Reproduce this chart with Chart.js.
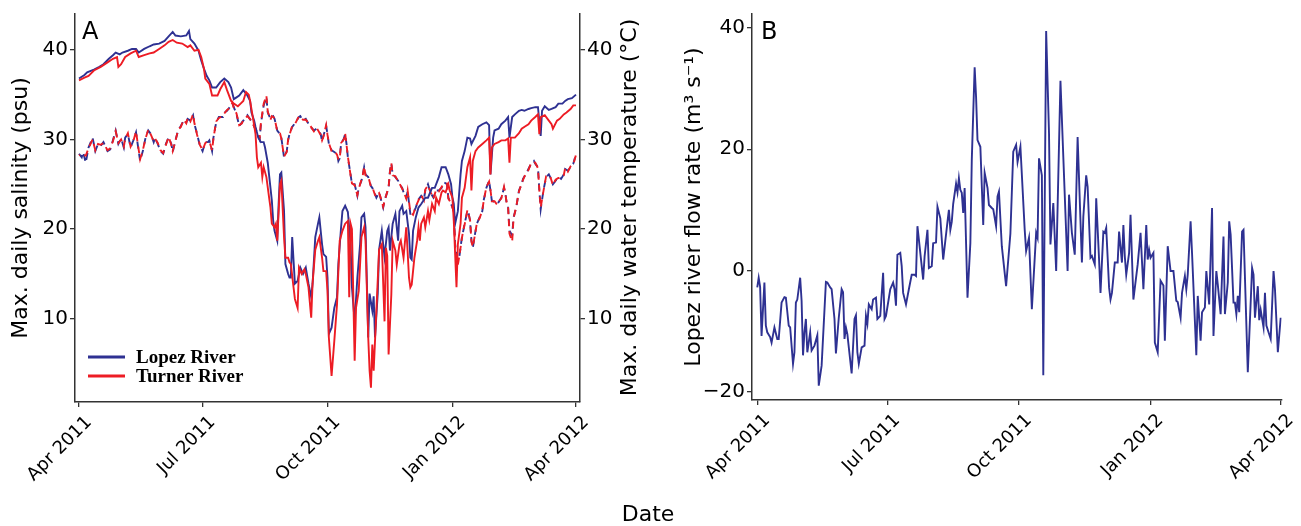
<!DOCTYPE html>
<html lang="en">
<head>
<meta charset="UTF-8">
<title>Lopez and Turner rivers: salinity, temperature and flow</title>
<script src="https://cdn.jsdelivr.net/npm/chart.js"></script>
<style>
  body { margin: 0; background: #fff; }
  .wrap { position: relative; width: 1301px; height: 526px; font-family: 'DejaVu Sans', sans-serif; }
  #panelA { position: absolute; left: 0; top: 0; }
  #panelB { position: absolute; left: 660px; top: 0; }
  .xtitle { position: absolute; left: 548px; width: 200px; top: 501px; text-align: center;
            font-size: 22px; line-height: 26px; color: #000; }
</style>
</head>
<body>
<div class="wrap">
  <canvas id="panelA" width="660" height="526"></canvas>
  <canvas id="panelB" width="641" height="526"></canvas>
  <div class="xtitle">Date</div>
</div>

<script>
// x axis: days since 1 Apr 2011
const tickDays = [0, 91, 183, 275, 366];
const tickLabels = ['Apr 2011', 'Jul 2011', 'Oct 2011', 'Jan 2012', 'Apr 2012'];
const seriesNames = ['Lopez River', 'Turner River'];
const seriesColors = ['#2e3192', '#ed1c24'];

// max daily salinity (psu)
const lopezSalDays = [
  0,4,6,11,15,18,22,25,27,30, 32,36,39,42,44,48,52,55,59,63,
  66,69,71,75,79,81,82,85,88,90, 92,94,96,98,101,104,107,110,112,114,
  116,118,121,124,126,127,129,130,132,134, 136,137,139,140,142,143,144,146,147,148,
  149,151,152,154,155,156,157,159,161,163, 165,167,169,171,172,174,176,177,179,180,
  182,183,184,186,188,190,191,193,194,196, 198,200,201,203,205,207,208,210,211,213,
  214,216,217,218,220,221,223,224,225,227, 228,229,231,233,235,236,238,239,241,243,
  244,245,246,248,250,252,255,257,260,262, 265,267,270,272,274,275,276,277,279,281,
  282,284,286,288,289,292,294,297,300,302, 303,305,306,309,311,314,316,317,319,321,
  324,326,328,331,333,336,338,340,341,343, 346,348,351,353,356,358,360,363,366];
const lopezSal = [
  36.8,37.2,37.5,37.8,38.1,38.4,39.0,39.4,39.7,39.5, 39.7,39.9,40.1,40.1,39.7,40.1,40.4,40.6,40.7,41.0,
  41.5,42.0,41.6,41.5,41.6,42.1,41.2,40.7,39.9,38.8, 37.9,37.1,36.6,35.8,35.8,36.4,36.8,36.4,35.8,34.5,
  34.7,34.9,35.5,34.9,34.3,33.0,32.1,31.4,30.2,29.7, 29.7,29.1,27.4,26.0,23.2,20.9,19.8,18.7,22.8,26.1,
  26.3,22.0,16.1,15.0,14.6,14.6,19.1,13.9,14.2,15.7, 15.0,15.7,13.9,12.4,13.9,19.1,20.6,21.3,18.3,17.2,
  16.9,14.6,8.3,9.0,11.2,12.4,16.1,20.2,22.0,22.6, 21.9,18.3,13.5,9.7,14.6,18.3,21.3,21.7,20.2,7.9,
  12.8,10.9,12.5,7.9,12.8,17.7,19.8,18.3,16.9,19.8, 20.2,17.6,20.6,21.7,18.7,22.0,22.6,21.7,22.0,19.5,
  16.8,16.6,19.8,21.3,22.4,22.8,23.5,23.5,24.6,24.6, 25.8,26.9,26.9,26.1,25.0,23.5,22.8,20.6,22.0,26.1,
  27.6,28.7,30.2,30.1,29.5,30.4,31.4,31.7,31.9,31.6, 26.1,30.2,31.0,31.2,31.7,32.1,32.5,30.2,32.5,32.8,
  33.2,33.3,33.2,33.4,33.5,33.6,33.6,30.4,33.2,33.7, 33.3,33.4,33.6,34.0,34.0,34.3,34.5,34.6,35.0];

const turnerSalDays = [
  0,4,7,11,16,21,25,28,29,31, 34,38,42,44,48,52,55,59,63,66,
  69,72,76,80,82,85,88,90,92,93, 96,98,102,104,107,109,112,114,117,119,
  121,123,125,126,128,130,131,132,134,135, 136,138,140,141,142,144,145,146,148,149,
  151,152,154,155,156,158,159,161,162,164, 166,167,169,171,172,174,176,177,179,180,
  182,183,184,186,188,190,191,192,194,196, 198,199,200,201,203,204,206,208,210,211,
  213,214,215,216,217,219,221,223,225,226, 227,228,230,231,233,234,236,237,239,241,
  242,243,244,245,247,249,250,251,252,254, 255,257,258,260,262,263,265,267,268,270,
  272,273,275,276,278,279,281,282,284,286, 288,289,290,292,294,297,300,302,303,304,
  306,309,311,314,316,317,318,321,324,326, 329,331,333,336,338,339,340,343,346,348,
  349,352,354,357,359,362,364,366];
const turnerSal = [
  36.6,36.9,37.1,37.7,38.1,38.6,39.0,39.2,38.1,38.4, 39.2,39.6,39.9,39.2,39.4,39.6,39.7,40.1,40.5,40.9,
  41.1,40.8,40.7,40.3,40.5,39.9,40.0,39.2,37.9,36.8, 36.2,34.9,34.9,35.6,36.4,35.5,34.3,34.0,33.7,34.0,
  34.3,35.3,35.0,34.3,32.5,30.6,28.0,26.9,27.4,25.8, 26.9,25.8,23.5,22.4,20.6,20.2,20.6,18.7,25.0,25.4,
  19.1,16.8,16.8,16.3,16.1,13.5,12.2,11.2,15.7,15.0, 15.5,15.0,13.5,10.1,13.9,17.7,18.7,19.1,16.8,15.3,
  15.3,13.1,7.9,3.6,7.5,11.6,15.3,18.7,19.8,20.6, 20.9,12.4,20.6,20.0,5.3,11.2,13.1,19.1,20.2,18.7,
  7.9,4.2,2.3,7.1,4.2,10.9,17.7,18.3,9.7,17.9, 17.0,6.0,12.7,18.7,17.6,16.0,18.3,18.7,16.8,20.2,
  17.5,14.6,13.5,13.8,16.8,18.7,20.2,18.7,20.6,21.3, 20.2,22.0,21.0,22.8,22.0,23.5,22.8,24.1,24.3,24.1,
  25.0,24.3,23.5,20.9,13.5,18.3,20.6,23.5,24.6,26.9, 28.0,24.3,27.6,28.7,29.1,29.5,29.9,30.2,26.1,29.1,
  29.5,29.7,29.9,29.9,30.1,27.4,30.2,30.2,30.7,31.2, 31.5,31.7,32.1,32.5,32.8,30.6,32.5,32.7,32.1,31.7,
  31.2,32.1,32.3,32.8,33.0,33.4,33.8,33.8];

// max daily water temperature (°C)
const tempDays = [
  0,2,3,5,7,10,12,14,16,18, 21,23,25,27,29,31,33,34,36,38,
  40,42,43,45,47,49,51,53,55,56, 58,60,62,64,66,68,69,71,73,75,
  77,79,80,82,84,85,87,89,91,93, 95,96,98,99,101,103,106,107,109,111,
  113,114,116,118,120,121,124,127,130,133, 134,136,138,139,141,142,143,144,146,148,
  149,151,153,154,155,157,159,162,163,165, 167,170,173,175,178,179,180,182,183,184,
  186,188,190,191,192,193,195,196,197,198, 200,201,203,205,206,208,209,210,211,213,
  215,216,218,219,221,222,224,225,228,229, 230,231,233,235,236,238,239,241,242,244,
  246,248,250,252,254,255,257,259,261,263, 265,267,269,271,272,274,276,277,278,279,
  280,282,283,284,286,287,288,289,290,292, 293,295,297,298,300,302,303,304,306,308,
  309,311,313,314,315,316,317,319,320,322, 324,326,327,329,331,333,335,336,338,339,
  340,342,344,346,347,349,351,353,355,357, 358,360,362,364,366];
const lopezTemp = [
  28.4,28.0,28.6,27.4,29.1,30.2,28.7,29.5,29.3,29.7, 28.7,28.9,29.9,31.0,29.5,30.1,29.1,30.2,30.6,29.1,
  29.9,30.8,29.7,27.6,28.7,30.2,31.0,30.6,29.7,30.2, 29.5,28.7,28.4,29.5,30.2,29.5,28.6,29.9,31.0,31.5,
  32.1,31.9,32.3,32.1,32.7,31.7,30.6,29.3,28.7,29.7, 29.7,29.9,28.7,30.2,31.9,32.5,32.5,33.0,33.2,33.6,
  34.0,33.6,32.8,31.5,31.9,32.1,32.7,32.0,31.2,30.0, 31.8,33.8,34.7,33.0,32.3,32.5,32.6,32.3,31.0,30.6,
  30.2,28.0,28.7,29.9,30.6,31.4,31.8,32.5,32.6,32.1, 32.3,31.5,31.0,31.2,30.6,29.8,30.4,31.5,30.6,29.5,
  28.8,28.6,28.4,27.6,27.9,29.5,30.1,30.6,29.5,28.0, 26.1,25.0,25.0,23.7,24.6,25.4,26.1,26.9,26.1,25.8,
  24.8,24.6,23.9,23.5,24.1,23.5,22.4,23.2,24.6,26.5, 27.3,26.1,25.8,25.4,25.0,24.6,24.1,23.5,24.2,21.7,
  21.7,22.4,23.3,23.7,23.3,24.3,25.0,24.0,23.5,24.3, 24.3,24.6,25.2,25.0,23.5,22.8,22.0,18.3,17.0,16.6,
  16.8,19.1,19.8,20.6,22.0,21.7,20.9,18.7,17.9,19.8, 20.6,21.3,22.0,23.2,24.6,25.4,24.3,23.2,23.0,22.8,
  23.0,23.5,24.6,24.0,22.8,22.5,19.8,19.3,21.3,22.4, 24.3,25.0,25.6,26.1,26.7,27.3,27.6,27.3,26.9,24.3,
  22.2,24.3,25.8,26.1,25.8,25.0,25.4,25.8,25.6,26.1, 26.7,26.5,26.9,27.3,28.4];
const turnerTemp = [
  28.2,28.4,28.3,28.2,29.0,30.0,28.8,29.5,29.4,29.6, 28.8,29.0,29.8,30.9,29.6,30.0,29.2,30.1,30.7,29.2,
  29.8,30.9,29.8,27.8,28.8,30.1,31.1,30.5,29.8,30.1, 29.6,28.8,28.5,29.4,30.3,29.4,28.7,29.8,31.1,31.4,
  32.2,31.8,32.4,32.0,32.8,31.8,30.5,29.4,28.8,29.6, 29.8,29.8,28.8,30.1,32.0,32.4,32.6,32.9,33.3,33.5,
  34.1,33.5,32.9,31.6,31.8,32.2,32.6,32.1,31.1,30.1, 31.9,34.0,34.9,33.1,32.2,32.6,32.5,32.4,30.9,30.7,
  30.1,28.1,28.6,30.0,30.5,31.5,31.7,32.6,32.5,32.2, 32.2,31.6,30.9,31.3,30.5,29.9,30.3,31.6,30.5,29.6,
  28.7,28.7,28.3,27.8,27.8,29.6,30.0,30.7,29.4,28.1, 26.0,25.1,24.9,23.8,24.5,25.5,26.0,27.0,26.0,25.9,
  24.7,24.7,23.8,23.6,24.0,23.6,22.5,23.1,24.7,26.4, 27.4,26.0,25.9,25.3,25.1,24.5,24.2,23.4,24.3,21.9,
  21.6,22.5,23.2,23.8,23.2,24.4,24.9,24.1,23.4,24.4, 24.2,24.7,25.1,25.1,23.4,22.9,21.9,18.0,16.5,16.0,
  16.9,19.0,19.9,20.5,22.1,21.6,21.0,18.6,18.0,19.7, 20.7,21.2,22.1,23.1,24.7,25.3,24.4,23.1,23.1,22.7,
  23.1,23.4,24.7,23.9,22.9,22.4,19.5,18.6,21.2,22.5, 24.2,25.1,25.5,26.2,26.6,27.4,27.5,27.4,26.8,24.4,
  22.4,24.2,25.9,26.0,25.9,24.9,25.5,25.7,25.7,26.0, 26.8,26.4,27.0,27.2,28.3];

// Lopez river flow rate (m3/s)
const flowDays = [
  0,1,2,3,5,6,7,9,10,12, 14,15,17,19,20,22,23,25,26,27,
  28,30,31,32,33,34,35,37,38,40, 42,43,45,48,49,51,52,54,55,57,
  59,60,61,62,63,66,68,69,70,71, 73,75,76,77,78,80,81,83,84,86,
  88,89,90,93,95,96,97,98,100,101, 102,104,106,108,110,111,112,114,116,117,
  119,120,122,123,125,126,128,130,133,134, 135,136,137,139,140,141,142,143,144,145,
  147,149,150,152,153,154,156,158,159,161, 162,164,165,167,168,169,171,174,177,179,
  181,182,184,187,188,190,192,195,196,197, 199,200,202,204,205,207,209,212,214,217,
  218,220,222,224,227,228,230,231,233,234, 236,237,239,240,242,243,244,246,247,248,
  250,252,253,255,256,257,258,260,261,263, 266,268,270,272,273,274,275,277,278,280,
  282,284,285,287,289,291,293,294,296,297, 299,300,301,303,304,307,308,310,311,313,
  314,316,318,319,321,322,324,326,327,329, 330,331,333,334,335,336,337,339,340,343,
  346,347,348,350,351,352,354,355,356,359, 361,362,364,366];
const flowRate = [
  -2.8,-1.2,-2.7,-10.8,-2.0,-9.1,-10.2,-11.0,-11.9,-9.4, -11.3,-11.3,-5.3,-4.4,-4.5,-9.1,-9.4,-15.4,-13.5,-5.3,
  -4.8,-1.2,-5.0,-14.0,-10.2,-8.0,-13.5,-10.2,-13.2,-12.4, -10.7,-19.0,-15.7,-1.9,-2.0,-2.8,-3.1,-8.0,-13.7,-7.8,
  -3.1,-3.6,-11.3,-9.4,-10.5,-17.0,-8.0,-7.4,-13.5,-15.4, -12.7,-12.4,-7.5,-8.8,-5.6,-6.4,-4.8,-4.5,-8.0,-7.5,
  -0.4,-8.0,-7.5,-3.1,-2.0,-3.1,-5.8,2.6,2.9,0.7, -3.7,-5.6,-3.1,-0.7,-0.7,-0.9,7.3,2.9,-1.5,2.3,
  6.7,0.4,0.7,4.5,4.6,10.5,8.6,1.8,8.0,10.0, 6.7,8.0,11.0,14.3,12.9,15.2,13.3,12.8,9.5,13.6,
  -4.5,4.5,18.2,33.5,28.6,21.5,20.4,7.5,16.1,13.6, 10.8,10.3,10.1,7.3,12.2,13.0,4.0,-2.6,6.1,19.6,
  20.7,17.9,20.4,6.7,3.2,5.4,-6.4,6.2,5.4,18.5, 15.7,-17.3,39.5,22.6,4.3,11.1,-0.1,31.3,18.7,-0.1,
  12.5,6.2,2.6,22.0,1.3,8.9,15.7,13.8,2.1,2.4, 1.0,11.9,1.8,-3.7,6.4,6.2,7.0,-2.8,-4.8,-3.7,
  1.3,1.3,6.4,1.3,7.5,2.3,-0.7,2.9,9.2,-4.8, 1.0,6.2,-3.1,7.5,1.8,3.4,2.1,2.9,-11.9,-13.5,
  -1.7,-2.5,-11.6,4.0,-0.1,-0.1,-5.0,-5.2,-7.8,-3.7, -0.9,-3.1,-0.7,8.1,2.9,-14.0,-4.2,-11.6,-6.9,-6.1,
  -0.1,-5.6,10.3,-10.8,-0.1,-2.3,-7.2,5.6,-7.2,-2.0, 8.1,5.9,-5.3,-5.3,-7.2,-4.2,-6.9,6.4,6.7,-16.8,
  0.4,-0.7,-7.8,-2.6,-8.2,-6.5,-9.4,-3.7,-9.1,-11.3, -0.1,-3.1,-13.5,-7.8];

const FONT = "'DejaVu Sans', sans-serif";
const AXIS = '#333';

const toPoints = (days, vals) => days.map((d, i) => ({ x: d, y: vals[i] }));

// panel letter, legend and right-hand title, drawn on top
const decor = {
  id: 'decor',
  afterDraw(chart, args, o) {
    const ctx = chart.ctx;
    ctx.save();
    ctx.fillStyle = '#000';
    ctx.font = '24px ' + FONT;
    ctx.textBaseline = 'alphabetic';
    ctx.textAlign = 'left';
    ctx.fillText(o.letter, o.letterX, 39);
    if (o.rightTitle) {
      ctx.font = '22px ' + FONT;
      ctx.translate(630, 207.5);
      ctx.rotate(-Math.PI / 2);
      ctx.textAlign = 'center';
      ctx.textBaseline = 'middle';
      ctx.fillText(o.rightTitle, 0, 0);
      ctx.setTransform(1, 0, 0, 1, 0, 0);
    }
    if (o.legend) {
      const rows = [357, 376];
      ctx.font = "bold 19px 'Liberation Serif', serif";
      ctx.textBaseline = 'middle';
      ctx.textAlign = 'left';
      seriesNames.forEach((name, i) => {
        ctx.strokeStyle = seriesColors[i];
        ctx.lineWidth = 3;
        ctx.beginPath();
        ctx.moveTo(88, rows[i]);
        ctx.lineTo(125, rows[i]);
        ctx.stroke();
        ctx.fillStyle = '#000';
        ctx.fillText(name, 136, rows[i] + 1);
      });
    }
    ctx.restore();
  }
};

function xAxis(min, max, height) {
  return {
    type: 'linear', min, max,
    afterBuildTicks: s => { s.ticks = tickDays.map(v => ({ value: v })); },
    afterFit: s => { s.height = height; },
    grid: { drawOnChartArea: false, color: AXIS, tickLength: 5, lineWidth: 1.3 },
    border: { color: AXIS, width: 1.5 },
    ticks: {
      autoSkip: false, minRotation: 45, maxRotation: 45, padding: 5, labelOffset: 10,
      color: '#000', font: { family: FONT, size: 18 },
      callback: (v, i) => tickLabels[i]
    }
  };
}

function yAxis(position, min, max, tickVals, width, title, pad) {
  return {
    type: 'linear', position, min, max,
    afterBuildTicks: s => { s.ticks = tickVals.map(v => ({ value: v })); },
    afterFit: s => { s.width = width; },
    grid: { drawOnChartArea: false, color: AXIS, tickLength: 5, lineWidth: 1.3 },
    border: { color: AXIS, width: 1.5 },
    ticks: { padding: 2, color: '#000', font: { family: FONT, size: 20 },
             callback: v => (v < 0 ? '\u2212' + Math.abs(v) : String(v)) },
    title: { display: !!title, text: title, color: '#000',
             font: { family: FONT, size: 22 }, padding: { top: pad, bottom: 0 } }
  };
}

const line = (label, pts, color, extra) => Object.assign({
  label, data: pts, borderColor: color, borderWidth: 1.9,
  pointRadius: 0, fill: false, tension: 0
}, extra);

new Chart(document.getElementById('panelA'), {
  type: 'line',
  data: {
    datasets: [
      line('Turner River salinity', toPoints(turnerSalDays, turnerSal), seriesColors[1], { order: 0 }),
      line('Lopez River salinity', toPoints(lopezSalDays, lopezSal), seriesColors[0], { order: 1 }),
      line('Turner River temperature', toPoints(tempDays, turnerTemp), seriesColors[1],
           { order: 2, yAxisID: 'y2', borderDash: [7, 5], borderDashOffset: 6 }),
      line('Lopez River temperature', toPoints(tempDays, lopezTemp), seriesColors[0],
           { order: 3, yAxisID: 'y2', borderDash: [7, 5] })
    ]
  },
  options: {
    responsive: false, animation: false, events: [],
    layout: { padding: { top: 13, left: 0, right: 0, bottom: 0 } },
    plugins: {
      legend: { display: false }, tooltip: { enabled: false },
      decor: { letter: 'A', letterX: 82, legend: true,
               rightTitle: 'Max. daily water temperature (\u00b0C)' }
    },
    scales: {
      x: xAxis(-2.95, 368.95, 124),
      y: yAxis('left', 0.7, 44.0, [10, 20, 30, 40], 75, 'Max. daily salinity (psu)', 8),
      y2: yAxis('right', 0.7, 44.0, [10, 20, 30, 40], 80, '', 0)
    }
  },
  plugins: [decor]
});

new Chart(document.getElementById('panelB'), {
  type: 'line',
  data: {
    datasets: [
      line('Lopez river flow rate', toPoints(flowDays, flowRate), seriesColors[0])
    ]
  },
  options: {
    responsive: false, animation: false, events: [],
    layout: { padding: { top: 13, left: 0, right: 16, bottom: 0 } },
    plugins: {
      legend: { display: false }, tooltip: { enabled: false },
      decor: { letter: 'B', letterX: 101 }
    },
    scales: {
      x: xAxis(-3.68, 366.7, 126),
      y: yAxis('left', -21.37, 42.3, [-20, 0, 20, 40], 92,
               'Lopez river flow rate (m\u00b3 s\u207b\u00b9)', 21)
    }
  },
  plugins: [decor]
});
</script>
</body>
</html>
